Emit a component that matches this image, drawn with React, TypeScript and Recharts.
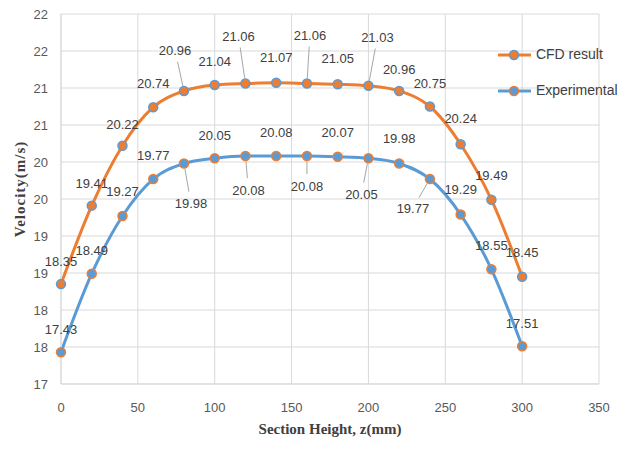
import React from 'react';
import {
  LineChart,
  Line,
  XAxis,
  YAxis,
  CartesianGrid,
  LabelList,
  Label,
} from 'recharts';

const heights = [0, 20, 40, 60, 80, 100, 120, 140, 160, 180, 200, 220, 240, 260, 280, 300];
const cfdResult = [18.35, 19.41, 20.22, 20.74, 20.96, 21.04, 21.06, 21.07, 21.06, 21.05, 21.03, 20.96, 20.75, 20.24, 19.49, 18.45];
const experimental = [17.43, 18.49, 19.27, 19.77, 19.98, 20.05, 20.08, 20.08, 20.08, 20.07, 20.05, 19.98, 19.77, 19.29, 18.55, 17.51];

const xTicks = [0, 50, 100, 150, 200, 250, 300, 350];
const yTicks = [17, 17.5, 18, 18.5, 19, 19.5, 20, 20.5, 21, 21.5, 22];
const yTickLabels = ['17', '18', '18', '19', '19', '20', '20', '21', '21', '22', '22'];

const seriesNames = ['CFD result', 'Experimental'];

// label placement in px relative to each point (Excel data labels were dragged around)
const cfdLabelOffsets = [
  [0, -23], [0, -23], [0, -22], [0, -24], [-9, -41], [0, -24], [-7, -48], [0, -26],
  [3, -49], [0, -26], [9, -49], [0, -22], [0, -24], [0, -26], [0, -25], [0, -25],
];
const expLabelOffsets = [
  [0, -23], [0, -24], [0, -25], [0, -24], [7, 40], [0, -23], [3, 34], [0, -24],
  [0, 30], [0, -25], [-7, 36], [0, -25], [-17, 29], [0, -26], [0, -24], [0, -23],
];

const ORANGE = '#ED7D31';
const BLUE = '#5B9BD5';
const GRID = '#d9d9d9';
const TEXT = '#404040';
const FONT = "'Liberation Sans Narrow', 'Liberation Sans', Arial, sans-serif";
const SERIF = "'Liberation Serif', 'Times New Roman', serif";

const data = heights.map((h, i) => ({ z: h, cfd: cfdResult[i], exp: experimental[i] }));

const makeLabel = (offsets: number[][]) => (props: any) => {
  const { x, y, value, index } = props;
  const [dx, dy] = offsets[index];
  const cx = x + dx;
  const cy = y + dy;
  const dist = Math.sqrt(dx * dx + dy * dy);
  let leader = null;
  if (dist > 29) {
    const ux = (x - cx) / dist;
    const uy = (y - cy) / dist;
    leader = (
      <line
        x1={cx + ux * 12}
        y1={cy + uy * 12}
        x2={x - ux * 5}
        y2={y - uy * 5}
        stroke="#a6a6a6"
        strokeWidth={1}
      />
    );
  }
  return (
    <g>
      {leader}
      <text x={cx} y={cy + 5} textAnchor="middle" fontSize={13} fill={TEXT} fontFamily={FONT}>
        {Number(value).toFixed(2)}
      </text>
    </g>
  );
};

const LegendIcon = ({ line, dot }: { line: string; dot: string }) => (
  <svg width={35} height={12} style={{ verticalAlign: 'middle' }}>
    <line x1={1} y1={6} x2={34} y2={6} stroke={line} strokeWidth={3} />
    <circle cx={17} cy={6} r={4.5} fill={dot} stroke={line === ORANGE ? BLUE : ORANGE} strokeWidth={1.5} />
  </svg>
);

export default function App() {
  return (
    <div style={{ position: 'absolute', left: 0, top: 0, width: 620, height: 450, background: '#fff' }}>
      <LineChart
        width={620}
        height={450}
        data={data}
        margin={{ top: 14, right: 21, left: 0, bottom: 6 }}
      >
        <CartesianGrid stroke={GRID} horizontalValues={yTicks} verticalValues={xTicks} />
        <XAxis
          dataKey="z"
          type="number"
          domain={[0, 350]}
          ticks={xTicks}
          height={60}
          axisLine={{ stroke: GRID }}
          tickLine={false}
          tickSize={0}
          tickMargin={19}
          tick={{ fontSize: 13, fill: '#595959', fontFamily: FONT }}
        >
          <Label
            content={({ viewBox }: any) => (
              <text
                x={viewBox.x + viewBox.width / 2}
                y={434}
                textAnchor="middle"
                fontSize={15}
                fontWeight="bold"
                fill={TEXT}
                fontFamily={SERIF}
              >
                Section Height, z(mm)
              </text>
            )}
          />
        </XAxis>
        <YAxis
          type="number"
          domain={[17, 22]}
          ticks={yTicks}
          width={61}
          interval={0}
          axisLine={{ stroke: GRID }}
          tickLine={false}
          tickSize={0}
          tickMargin={13}
          tickFormatter={(v: number, i: number) => yTickLabels[i]}
          tick={{ fontSize: 13, fill: '#595959', fontFamily: FONT }}
        >
          <Label
            content={() => (
              <text
                x={0}
                y={0}
                transform="translate(25, 189) rotate(-90)"
                textAnchor="middle"
                fontSize={15}
                fontWeight="bold"
                letterSpacing={1}
                fill={TEXT}
                fontFamily={SERIF}
              >
                Velocity(m/s)
              </text>
            )}
          />
        </YAxis>
        <Line
          type="monotone"
          dataKey="exp"
          name={seriesNames[1]}
          stroke={BLUE}
          strokeWidth={3}
          dot={{ r: 4.5, fill: BLUE, stroke: ORANGE, strokeWidth: 1.5 }}
          isAnimationActive={false}
        >
          <LabelList dataKey="exp" content={makeLabel(expLabelOffsets)} />
        </Line>
        <Line
          type="monotone"
          dataKey="cfd"
          name={seriesNames[0]}
          stroke={ORANGE}
          strokeWidth={3}
          dot={{ r: 4.5, fill: ORANGE, stroke: BLUE, strokeWidth: 1.5 }}
          isAnimationActive={false}
        >
          <LabelList dataKey="cfd" content={makeLabel(cfdLabelOffsets)} />
        </Line>
      </LineChart>
      <div
        style={{
          position: 'absolute',
          left: 497,
          top: 44,
          fontFamily: FONT,
          fontSize: 14,
          color: TEXT,
          lineHeight: '20px',
        }}
      >
        <div style={{ whiteSpace: 'nowrap' }}>
          <LegendIcon line={ORANGE} dot={ORANGE} /> {seriesNames[0]}
        </div>
        <div style={{ whiteSpace: 'nowrap', marginTop: 16 }}>
          <LegendIcon line={BLUE} dot={BLUE} /> {seriesNames[1]}
        </div>
      </div>
    </div>
  );
}
